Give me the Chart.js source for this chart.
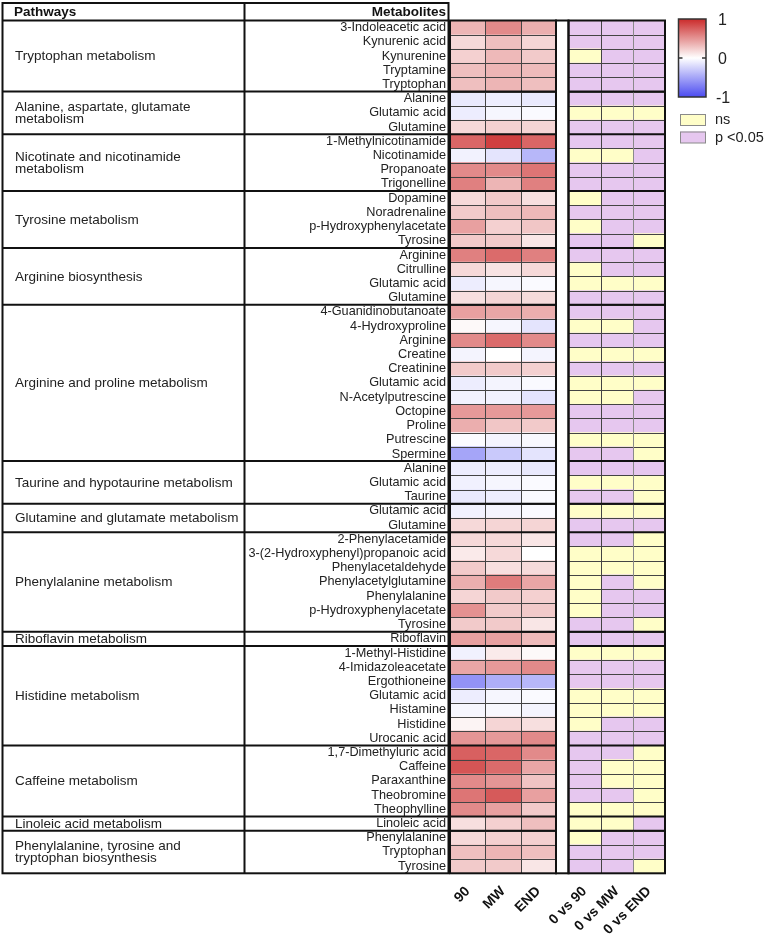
<!DOCTYPE html>
<html>
<head>
<meta charset="utf-8">
<script src="https://cdn.jsdelivr.net/npm/chart.js@4.4.1/dist/chart.umd.min.js"></script>
<style>
  html, body { margin: 0; padding: 0; background: #fff; }
  #wrap { width: 767px; height: 935px; }
</style>
</head>
<body>
<div id="wrap"><canvas id="heat" width="767" height="935"></canvas></div>
<script>
// pathway groups, top to bottom, and how many metabolite rows each spans
const pathways = [
  'Tryptophan metabolism',
  'Alanine, aspartate, glutamate\nmetabolism',
  'Nicotinate and nicotinamide\nmetabolism',
  'Tyrosine metabolism',
  'Arginine biosynthesis',
  'Arginine and proline metabolism',
  'Taurine and hypotaurine metabolism',
  'Glutamine and glutamate metabolism',
  'Phenylalanine metabolism',
  'Riboflavin metabolism',
  'Histidine metabolism',
  'Caffeine metabolism',
  'Linoleic acid metabolism',
  'Phenylalanine, tyrosine and\ntryptophan biosynthesis'
];
const pathwaySizes = [5, 3, 4, 4, 4, 11, 3, 2, 7, 1, 7, 5, 1, 3];

const metabolites = [
  '3-Indoleacetic acid', 'Kynurenic acid', 'Kynurenine', 'Tryptamine', 'Tryptophan',
  'Alanine', 'Glutamic acid', 'Glutamine',
  '1-Methylnicotinamide', 'Nicotinamide', 'Propanoate', 'Trigonelline',
  'Dopamine', 'Noradrenaline', 'p-Hydroxyphenylacetate', 'Tyrosine',
  'Arginine', 'Citrulline', 'Glutamic acid', 'Glutamine',
  '4-Guanidinobutanoate', '4-Hydroxyproline', 'Arginine', 'Creatine', 'Creatinine', 'Glutamic acid',
  'N-Acetylputrescine', 'Octopine', 'Proline', 'Putrescine', 'Spermine',
  'Alanine', 'Glutamic acid', 'Taurine',
  'Glutamic acid', 'Glutamine',
  '2-Phenylacetamide', '3-(2-Hydroxyphenyl)propanoic acid', 'Phenylacetaldehyde', 'Phenylacetylglutamine',
  'Phenylalanine', 'p-Hydroxyphenylacetate', 'Tyrosine',
  'Riboflavin',
  '1-Methyl-Histidine', '4-Imidazoleacetate', 'Ergothioneine', 'Glutamic acid', 'Histamine', 'Histidine', 'Urocanic acid',
  '1,7-Dimethyluric acid', 'Caffeine', 'Paraxanthine', 'Theobromine', 'Theophylline',
  'Linoleic acid',
  'Phenylalanine', 'Tryptophan', 'Tyrosine'
];

// colour-scale values (-1 .. 1)
const fc90 = [
  0.35, 0.18, 0.22, 0.30, 0.30,
  -0.12, -0.10, 0.18,
  0.72, -0.07, 0.55, 0.60,
  0.18, 0.25, 0.45, 0.25,
  0.60, 0.18, -0.10, 0.15,
  0.45, 0.03, 0.55, -0.06, 0.25, -0.10, -0.07, 0.48, 0.38, -0.02, -0.50,
  -0.10, -0.08, -0.12,
  -0.08, 0.18,
  0.18, 0.10, 0.25, 0.38, 0.20, 0.52, 0.25,
  0.45,
  -0.08, 0.42, -0.60, -0.10, -0.05, 0.05, 0.50,
  0.75, 0.80, 0.55, 0.65, 0.55,
  0.15,
  0.18, 0.30, 0.25
];
const fcMW = [
  0.55, 0.30, 0.33, 0.35, 0.35,
  -0.10, -0.05, 0.22,
  0.90, -0.15, 0.55, 0.35,
  0.25, 0.30, 0.22, 0.25,
  0.70, 0.13, -0.05, 0.20,
  0.42, -0.05, 0.70, 0.00, 0.25, -0.06, -0.08, 0.48, 0.27, -0.06, -0.30,
  -0.10, -0.05, -0.10,
  -0.06, 0.20,
  0.18, 0.18, 0.15, 0.62, 0.25, 0.25, 0.25,
  0.45,
  0.10, 0.48, -0.45, -0.05, -0.04, 0.20, 0.48,
  0.72, 0.70, 0.50, 0.78, 0.45,
  0.22,
  0.22, 0.35, 0.25
];
const fcEND = [
  0.38, 0.20, 0.25, 0.32, 0.30,
  -0.12, -0.03, 0.20,
  0.72, -0.40, 0.65, 0.60,
  0.15, 0.33, 0.27, 0.12,
  0.60, 0.18, -0.03, 0.17,
  0.38, -0.15, 0.55, -0.06, 0.22, -0.03, -0.15, 0.48, 0.25, -0.04, -0.15,
  -0.12, -0.03, -0.03,
  -0.03, 0.20,
  0.12, 0.00, 0.17, 0.42, 0.22, 0.25, 0.12,
  0.32,
  0.03, 0.55, -0.40, -0.03, -0.06, 0.15, 0.55,
  0.55, 0.42, 0.28, 0.45, 0.25,
  0.30,
  0.22, 0.30, 0.12
];

// 1 = p <0.05, 0 = ns
const sig90 = [
  1, 1, 0, 1, 1,
  1, 0, 1,
  1, 0, 1, 1,
  0, 1, 0, 1,
  1, 0, 0, 1,
  1, 0, 1, 0, 1, 0, 0, 1, 1, 0, 1,
  1, 0, 1,
  0, 1,
  1, 0, 0, 0, 0, 0, 1,
  1,
  0, 1, 1, 0, 0, 0, 1,
  1, 1, 1, 1, 0,
  0,
  0, 1, 1
];
const sigMW = [
  1, 1, 1, 1, 1,
  1, 0, 1,
  1, 0, 1, 1,
  1, 1, 1, 1,
  1, 1, 0, 1,
  1, 0, 1, 0, 1, 0, 0, 1, 1, 0, 1,
  1, 0, 1,
  0, 1,
  1, 0, 0, 1, 1, 1, 1,
  1,
  0, 1, 1, 0, 0, 1, 1,
  1, 0, 0, 1, 0,
  0,
  1, 1, 1
];
const sigEND = [
  1, 1, 1, 1, 1,
  1, 0, 1,
  1, 1, 1, 1,
  1, 1, 1, 0,
  1, 1, 0, 1,
  1, 1, 1, 0, 1, 0, 1, 1, 1, 0, 0,
  1, 0, 0,
  0, 1,
  0, 0, 0, 0, 1, 1, 0,
  1,
  0, 1, 1, 0, 0, 1, 1,
  0, 0, 0, 0, 0,
  1,
  1, 1, 0
];

const colLabels = ['90', 'MW', 'END', '0 vs 90', '0 vs MW', '0 vs END'];
const scaleTicks = [1, 0, -1];
const legendLabels = ['ns', 'p <0.05'];

// column widths in x-axis units (1 unit = 1 px)
const HEAT_W = 106 / 3, GAP_W = 12.5, SIG_W = 96.5 / 3;
const X_MAX = 3 * HEAT_W + GAP_W + 3 * SIG_W;
const NS_COLOR = '#FFFEC8', SIG_COLOR = '#E6C7EF';
const FONT = "'Liberation Sans', Arial, sans-serif";

function colStart(c) {
  return c < 3 ? c * HEAT_W : 3 * HEAT_W + GAP_W + (c - 3) * SIG_W;
}
function colWidth(c) {
  return c < 3 ? HEAT_W : SIG_W;
}

function heatColor(v) {
  const a = Math.min(1, Math.abs(v));
  if (v >= 0) {
    return 'rgb(' + Math.round(255 - a * 52) + ',' + Math.round(255 - a * 212) + ',' + Math.round(255 - a * 212) + ')';
  }
  return 'rgb(' + Math.round(255 - a * 180) + ',' + Math.round(255 - a * 180) + ',' + Math.round(255 - a * 15) + ')';
}

function cellBars(vals, c, colorFn) {
  return {
    label: colLabels[c],
    data: vals.map(() => [colStart(c), colStart(c) + colWidth(c)]),
    backgroundColor: vals.map(colorFn),
    borderWidth: 0,
    grouped: false,
    barPercentage: 1,
    categoryPercentage: 1
  };
}

const datasets = [
  cellBars(fc90, 0, heatColor),
  cellBars(fcMW, 1, heatColor),
  cellBars(fcEND, 2, heatColor),
  cellBars(sig90, 3, s => s ? SIG_COLOR : NS_COLOR),
  cellBars(sigMW, 4, s => s ? SIG_COLOR : NS_COLOR),
  cellBars(sigEND, 5, s => s ? SIG_COLOR : NS_COLOR),
  {
    label: 'gap',
    data: metabolites.map(() => [3 * HEAT_W, 3 * HEAT_W + GAP_W]),
    backgroundColor: '#ffffff',
    borderWidth: 0,
    grouped: false,
    barPercentage: 1,
    categoryPercentage: 1
  }
];

function line(ctx, x1, y1, x2, y2) {
  ctx.beginPath();
  ctx.moveTo(x1, y1);
  ctx.lineTo(x2, y2);
  ctx.stroke();
}

// table grid, pathway column, header and the two legends
const tablePlugin = {
  id: 'tablePlugin',
  afterDatasetsDraw(chart) {
    const ctx = chart.ctx;
    const x = chart.scales.x, y = chart.scales.y;
    const n = metabolites.length;
    const rowEdge = i => y.getPixelForValue(i - 0.5);
    const top = rowEdge(0), bottom = rowEdge(n);
    const hL = x.getPixelForValue(0), hR = x.getPixelForValue(3 * HEAT_W);
    const sL = x.getPixelForValue(3 * HEAT_W + GAP_W), sR = x.getPixelForValue(X_MAX);
    const tableL = 2.5, pathR = 244.5, metR = 448.5, headTop = 3;

    ctx.save();
    // thin cell lines
    ctx.lineWidth = 1;
    ctx.strokeStyle = '#444';
    for (let i = 1; i < n; i++) {
      const yy = Math.round(rowEdge(i)) + 0.5;
      line(ctx, hL, yy, hR, yy);
      line(ctx, sL, yy, sR, yy);
    }
    [1, 2, 4].forEach(c => {
      const xx = Math.round(x.getPixelForValue(colStart(c))) + 0.5;
      line(ctx, xx, top, xx, bottom);
    });
    ctx.strokeStyle = '#8a8a8a';
    const xx5 = Math.round(x.getPixelForValue(colStart(5))) + 0.5;
    line(ctx, xx5, top, xx5, bottom);

    // group separators
    ctx.lineWidth = 2;
    ctx.strokeStyle = '#111';
    let r = 0;
    pathwaySizes.forEach(s => {
      r += s;
      if (r < n) {
        const yy = rowEdge(r);
        line(ctx, tableL, yy, hR, yy);
        line(ctx, sL, yy, sR, yy);
      }
    });

    // outlines
    ctx.strokeRect(hL, top, hR - hL, bottom - top);
    ctx.strokeRect(hR, top, sL - hR, bottom - top);
    ctx.strokeRect(sL, top, sR - sL, bottom - top);
    ctx.strokeRect(tableL, headTop, metR - tableL, bottom - headTop);
    line(ctx, tableL, top, metR, top);
    line(ctx, pathR, headTop, pathR, bottom);

    // header
    ctx.fillStyle = '#111';
    ctx.textBaseline = 'middle';
    ctx.font = 'bold 13.5px ' + FONT;
    ctx.textAlign = 'left';
    ctx.fillText('Pathways', 14, (headTop + top) / 2 + 0.5);
    ctx.textAlign = 'right';
    ctx.fillText('Metabolites', 446, (headTop + top) / 2 + 0.5);

    // pathway names
    ctx.font = '13.5px ' + FONT;
    ctx.fillStyle = '#222';
    ctx.textAlign = 'left';
    r = 0;
    pathways.forEach((name, k) => {
      const mid = (rowEdge(r) + rowEdge(r + pathwaySizes[k])) / 2;
      const lines = name.split('\n');
      const lh = 11.7;
      lines.forEach((t, j) => {
        ctx.fillText(t, 15, mid + (j - (lines.length - 1) / 2) * lh + 0.5);
      });
      r += pathwaySizes[k];
    });

    // colour bar legend
    const cbL = 678.5, cbR = 706, cbT = 19, cbB = 97;
    const grad = ctx.createLinearGradient(0, cbT, 0, cbB);
    for (let k = 0; k <= 10; k++) {
      grad.addColorStop(k / 10, heatColor(1 - k / 5));
    }
    ctx.fillStyle = grad;
    ctx.fillRect(cbL, cbT, cbR - cbL, cbB - cbT);
    ctx.lineWidth = 1.5;
    ctx.strokeStyle = '#333';
    ctx.strokeRect(cbL, cbT, cbR - cbL, cbB - cbT);
    const cbMid = (cbT + cbB) / 2;
    line(ctx, cbL, cbMid, cbL + 4, cbMid);
    line(ctx, cbR - 4, cbMid, cbR, cbMid);
    ctx.font = '16px ' + FONT;
    ctx.fillStyle = '#222';
    ctx.textAlign = 'left';
    scaleTicks.forEach(t => {
      const yy = cbT + (1 - t) / 2 * (cbB - cbT);
      ctx.fillText(String(t), t < 0 ? 716 : 718, yy + 1.5);
    });

    // significance legend
    ctx.font = '14.5px ' + FONT;
    ctx.lineWidth = 1;
    ctx.strokeStyle = '#8a8a8a';
    [NS_COLOR, SIG_COLOR].forEach((col, k) => {
      const by = 114 + k * 17.5;
      ctx.fillStyle = col;
      ctx.fillRect(680, by, 26, 11.5);
      ctx.strokeRect(680.5, by + 0.5, 25, 11);
      ctx.fillStyle = '#222';
      ctx.fillText(legendLabels[k], 715, by + 6);
    });
    ctx.restore();
  }
};

Chart.defaults.font.family = FONT;

new Chart(document.getElementById('heat'), {
  type: 'bar',
  data: { labels: metabolites, datasets: datasets },
  options: {
    indexAxis: 'y',
    responsive: false,
    animation: false,
    layout: { padding: { top: 20.5, left: 0, right: 767 - 665, bottom: 0 } },
    plugins: { legend: { display: false }, tooltip: { enabled: false } },
    scales: {
      y: {
        type: 'category',
        offset: true,
        grid: { display: false, drawTicks: false },
        border: { display: false },
        ticks: { autoSkip: false, padding: 4, color: '#222', font: { size: 12.7 } },
        afterFit(scale) { scale.width = 450; }
      },
      x: {
        type: 'linear',
        min: 0,
        max: X_MAX,
        grid: { display: false, drawTicks: false },
        border: { display: false },
        afterBuildTicks(scale) {
          scale.ticks = colLabels.map((l, c) => ({ value: colStart(c) + colWidth(c) / 2 }));
        },
        ticks: {
          autoSkip: false,
          minRotation: 45,
          maxRotation: 45,
          padding: 10,
          color: '#111',
          font: { size: 14, weight: 'bold' },
          callback: (v, i) => colLabels[i]
        },
        afterFit(scale) { scale.height = 935 - 873.3; }
      }
    }
  },
  plugins: [tablePlugin]
});
</script>
</body>
</html>
